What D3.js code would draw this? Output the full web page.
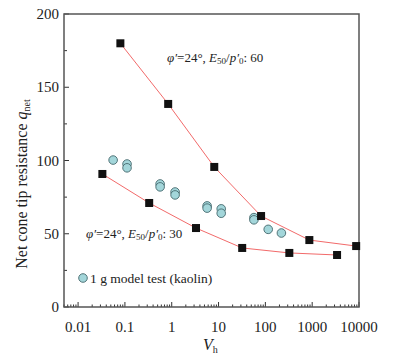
<!DOCTYPE html>
<html>
<head>
<meta charset="utf-8">
<script src="https://cdnjs.cloudflare.com/ajax/libs/d3/7.8.5/d3.min.js"></script>
<style>
  body { margin: 0; background: #fff; }
  svg text { font-family: "Liberation Serif", "DejaVu Serif", serif; fill: #222; }
</style>
</head>
<body>
<svg id="canvas" width="396" height="358"></svg>
<script>
// datos
let vh60 = [0.08, 0.84, 8.1, 81, 870, 8700];
let q60 = [180, 138.6, 95.6, 62.1, 45.7, 41.6];
let vh30 = [0.033, 0.33, 3.3, 32, 325, 3400];
let q30 = [90.8, 71, 53.9, 40.3, 36.9, 35.5];
// ensayo 1 g (kaolin)
let vhTest = [0.056, 0.111, 0.111, 0.565, 0.565, 1.18, 1.18, 5.7, 5.7, 11.4, 11.4, 57, 57, 115, 220];
let qTest = [100.3, 97.6, 95, 84, 82, 78.5, 76.5, 69, 67.5, 67, 64, 61, 59.5, 53, 50.5];
let xTicks = [0.01, 0.1, 1, 10, 100, 1000, 10000];
let xTickLabels = ['0.01', '0.1', '1', '10', '100', '1000', '10000'];
let yTicks = [0, 50, 100, 150, 200];

let canvas = d3.select('#canvas');
let pLeft = 64, pRight = 359, pTop = 14, pBottom = 307;

let x = d3.scaleLog().domain([0.005, 10000]).range([pLeft, pRight]);
let y = d3.scaleLinear().domain([0, 200]).range([pBottom, pTop]);

// ticks menores del eje x (hacia adentro)
let minorX = [];
for (let e = -3; e <= 3; e++) {
  for (let m = 2; m <= 9; m++) {
    let v = m * Math.pow(10, e);
    if (v >= 0.005 && v < 10000) minorX.push(v);
  }
}
canvas.selectAll('.mx').data(minorX).enter().append('line')
  .attr('x1', d => x(d)).attr('x2', d => x(d))
  .attr('y1', pBottom).attr('y2', pBottom - 2.5)
  .attr('stroke', '#333').attr('stroke-width', 1);
canvas.selectAll('.Mx').data(xTicks).enter().append('line')
  .attr('x1', d => x(d)).attr('x2', d => x(d))
  .attr('y1', pBottom).attr('y2', pBottom - 5)
  .attr('stroke', '#333').attr('stroke-width', 1);
canvas.selectAll('.xl').data(xTicks).enter().append('text')
  .attr('x', d => x(d)).attr('y', pBottom + 25)
  .attr('text-anchor', 'middle').attr('font-size', 15)
  .text((d, i) => xTickLabels[i]);

// ticks eje y
let minorY = [25, 75, 125, 175];
canvas.selectAll('.my').data(minorY).enter().append('line')
  .attr('x1', pLeft).attr('x2', pLeft + 3)
  .attr('y1', d => y(d)).attr('y2', d => y(d))
  .attr('stroke', '#333').attr('stroke-width', 1);
canvas.selectAll('.My').data(yTicks).enter().append('line')
  .attr('x1', pLeft).attr('x2', pLeft + 5)
  .attr('y1', d => y(d)).attr('y2', d => y(d))
  .attr('stroke', '#333').attr('stroke-width', 1);
canvas.selectAll('.yl').data(yTicks).enter().append('text')
  .attr('x', pLeft - 5).attr('y', d => y(d) + 5)
  .attr('text-anchor', 'end').attr('font-size', 15)
  .text(d => d);

// marco
canvas.append('rect')
  .attr('x', pLeft).attr('y', pTop)
  .attr('width', pRight - pLeft).attr('height', pBottom - pTop)
  .attr('fill', 'none').attr('stroke', '#555').attr('stroke-width', 1.5);

// lineas rojas
let line = d3.line().x(d => x(d[0])).y(d => y(d[1]));
canvas.append('path').attr('d', line(d3.zip(vh60, q60)))
  .attr('fill', 'none').attr('stroke', '#f26a6a').attr('stroke-width', 1);
canvas.append('path').attr('d', line(d3.zip(vh30, q30)))
  .attr('fill', 'none').attr('stroke', '#f26a6a').attr('stroke-width', 1);

// circulos del ensayo
canvas.selectAll('.test').data(d3.zip(vhTest, qTest)).enter().append('circle')
  .attr('cx', d => x(d[0])).attr('cy', d => y(d[1])).attr('r', 4.3)
  .attr('fill', '#a3d6da').attr('stroke', '#44686c').attr('stroke-width', 0.9);

// cuadrados
let sq = 8;
canvas.selectAll('.sq').data(d3.zip(vh60, q60).concat(d3.zip(vh30, q30))).enter().append('rect')
  .attr('x', d => x(d[0]) - sq / 2).attr('y', d => y(d[1]) - sq / 2)
  .attr('width', sq).attr('height', sq).attr('fill', '#111');

// anotaciones
function nota(px, py, val) {
  let t = canvas.append('text').attr('x', px).attr('y', py).attr('font-size', 13);
  t.append('tspan').attr('font-style', 'italic').text('φ′');
  t.append('tspan').text('=24°, ');
  t.append('tspan').attr('font-style', 'italic').text('E');
  t.append('tspan').attr('font-size', 9).attr('dy', 2).text('50');
  t.append('tspan').attr('dy', -2).text('/');
  t.append('tspan').attr('font-style', 'italic').text('p′');
  t.append('tspan').attr('font-size', 9).attr('dy', 2).text('0');
  t.append('tspan').attr('dy', -2).text(': ' + val);
}
nota(167, 62, 60);
nota(86, 238, 30);

// leyenda
canvas.append('circle').attr('cx', 83).attr('cy', 278).attr('r', 4.3)
  .attr('fill', '#a3d6da').attr('stroke', '#44686c').attr('stroke-width', 0.9);
canvas.append('text').attr('x', 90).attr('y', 283).attr('font-size', 13.5)
  .text('1 g model test (kaolin)');

// titulos de ejes
let yl = canvas.append('text').attr('transform', 'translate(27,184) rotate(-90)')
  .attr('text-anchor', 'middle').attr('font-size', 16);
yl.append('tspan').text('Net cone tip resistance ');
yl.append('tspan').attr('font-style', 'italic').text('q');
yl.append('tspan').attr('font-size', 10).attr('dy', 3).text('net');

let xl = canvas.append('text').attr('x', 203).attr('y', 350).attr('font-size', 16);
xl.append('tspan').attr('font-style', 'italic').text('V');
xl.append('tspan').attr('font-size', 10).attr('dy', 3).text('h');
</script>
</body>
</html>
